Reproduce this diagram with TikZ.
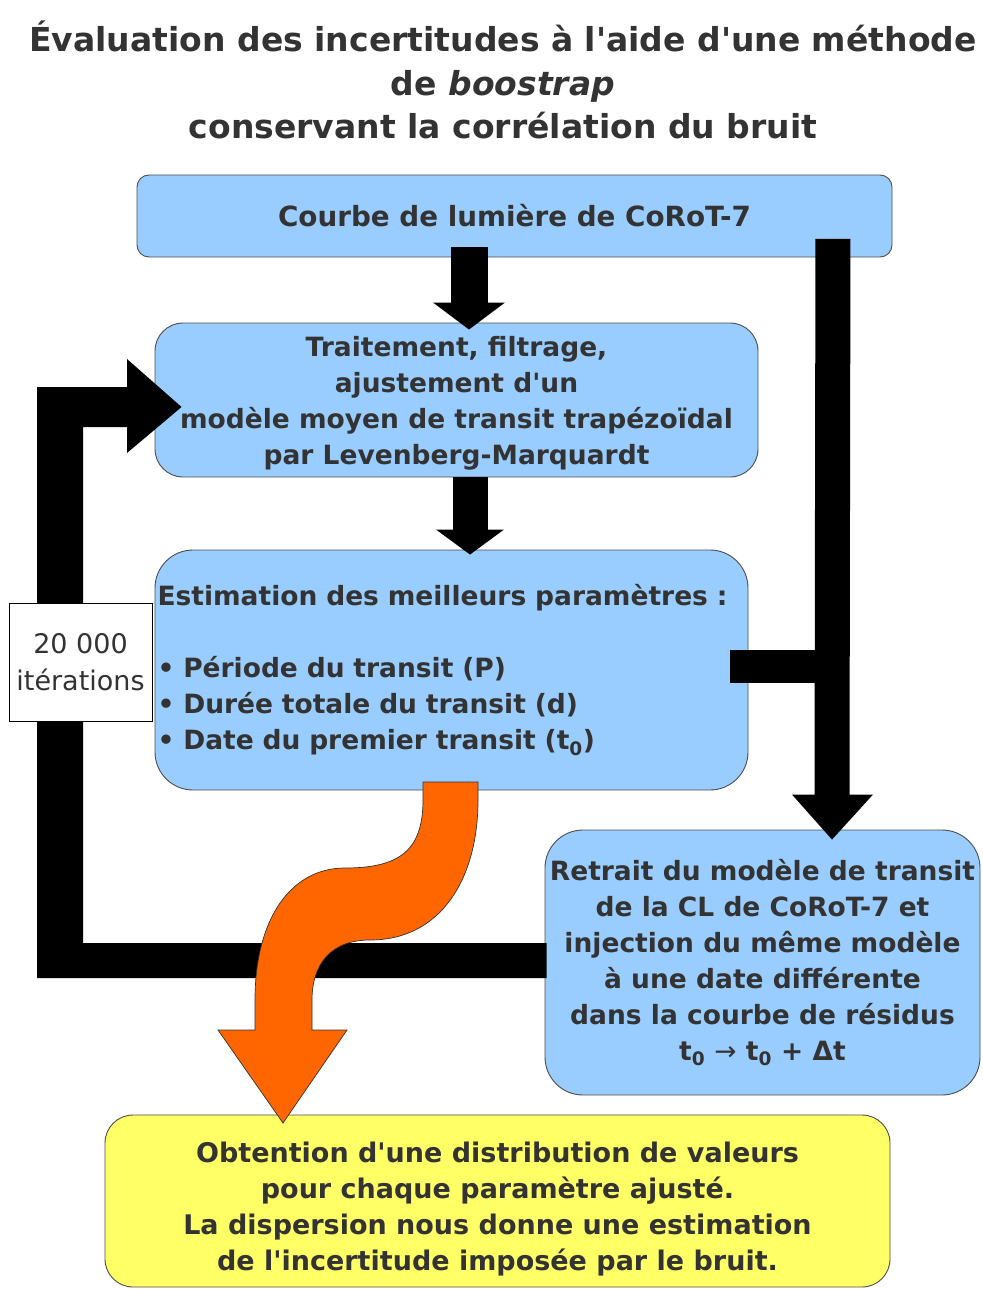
\documentclass[tikz,border=0pt]{standalone}
\usepackage{fontspec}
\newfontfamily\djfam{DejaVu Sans}
\usetikzlibrary{arrows.meta,calc}
\definecolor{boxblue}{HTML}{99CCFF}
\definecolor{boxyellow}{HTML}{FFFF66}
\definecolor{txtgray}{HTML}{333333}
\definecolor{orangeflow}{HTML}{FF6600}
\definecolor{edgegray}{HTML}{4D4D4D}
\tikzset{
  flowbox/.style={draw=edgegray, line width=0.9pt, fill=boxblue, text=txtgray,
    align=center, inner sep=0pt, font=\djfam\bfseries\fontsize{26.5}{36}\selectfont},
  titletext/.style={text=txtgray, align=center, inner sep=0pt,
    font=\djfam\bfseries\fontsize{33}{43.5}\selectfont},
  countbox/.style={draw=black, line width=0.8pt, fill=white, text=txtgray,
    align=center, inner sep=0pt, font=\djfam\fontsize{27}{37}\selectfont},
  fatline/.style={draw=black, line cap=butt, line join=miter},
  orangeshape/.style={fill=orangeflow, draw=black!80, line width=0.7pt}
}
\begin{document}
\begin{tikzpicture}[x=1pt,y=-1pt]
\useasboundingbox (0,0) rectangle (982,1289);

\node[titletext] (title) at (503,80)
  {Évaluation des incertitudes à l'aide d'une méthode\\de \textit{boostrap}\\conservant la corrélation du bruit};

\node[flowbox, font=\djfam\bfseries\fontsize{27.8}{36}\selectfont, minimum width=755pt, minimum height=82pt, rounded corners=12pt] (b1) at (514.5,216)
  {Courbe de lumière de CoRoT-7};

\node[flowbox, minimum width=603pt, minimum height=154pt, rounded corners=28pt] (b2) at (456.5,400)
  {\rule{0pt}{26pt}Traitement, filtrage,\\ajustement d'un\\modèle moyen de transit trapézoïdal\\par Levenberg-Marquardt};

\node[flowbox, minimum width=593pt, minimum height=240pt, rounded corners=38pt, align=left, text width=588pt] (b3) at (451.5,670)
  {Estimation des meilleurs paramètres :\\[36pt]• Période du transit (P)\\• Durée totale du transit (d)\\• Date du premier transit (t\textsubscript{0})};

\node[flowbox, minimum width=435pt, minimum height=265pt, rounded corners=38pt] (b4) at (762.5,962.5)
  {Retrait du modèle de transit\\de la CL de CoRoT-7 et\\injection du même modèle\\à une date différente\\dans la courbe de résidus\\t\textsubscript{0} {\mdseries→} t\textsubscript{0} + Δt};

\node[flowbox, fill=boxyellow, font=\djfam\bfseries\fontsize{27}{36}\selectfont, minimum width=785pt, minimum height=172pt, rounded corners=28pt] (b5) at (497.5,1201)
  {\rule{0pt}{36.5pt}Obtention d'une distribution de valeurs\\pour chaque paramètre ajusté.\\La dispersion nous donne une estimation\\de l'incertitude imposée par le bruit.};

% straight arrows
\draw[fatline, line width=37pt, -{Triangle[width=72pt,length=27pt,line width=0pt]}]
  ($(b1.south)+(-45.5,-10)$) -- ($(b2.north)+(12.5,7)$);
\draw[fatline, line width=35pt, -{Triangle[width=68pt,length=25pt,line width=0pt]}]
  ($(b2.south)+(13.5,0)$) -- ($(b3.north)+(18.5,5)$);

% right arrow from box 1 (and box 3) down to box 4
\coordinate (rtip) at ($(b4.north)+(69.5,10)$);
\fill[black] ($(b1.east)+(-77,23)$) -- ($(b1.east)+(-42,23)$) -- ($(rtip)+(17.5,-45)$)
  -- ($(rtip)+(41,-45)$) -- (rtip) -- ($(rtip)+(-40,-45)$) -- ($(rtip)+(-17.5,-45)$) -- cycle;
\draw[fatline, line width=33pt]
  ($(b3.east)+(-18,-3.5)$) -- ($(b3.east)+(84,-3.5)$);

% loop arrow back to box 2
\fill[black] ($(b4.west)+(2,-19.5)$) -- (83,943) -- (83,427) -- (127,427) -- (127,453)
  -- ($(b2.west)+(27,7)$) -- (127,359) -- (127,387) -- (37,387) -- (37,978)
  -- ($(b4.west)+(2,15.5)$) -- cycle;

\node[countbox, minimum width=143pt, minimum height=118pt] (lbl) at (80.5,662) {20 000\\itérations};

% orange curved arrow
\filldraw[orangeshape] (423,782) -- (423,800) .. controls (423,850) and (400,868) .. (345,868)
  .. controls (290,868) and (255,920) .. (255,1000) -- (255,1030) -- (218,1030) -- (283,1123)
  -- (347,1030) -- (312,1030) -- (312,1000) .. controls (312,965) and (330,940) .. (370,940)
  .. controls (440,940) and (478,880) .. (478,800) -- (478,782) -- cycle;
\end{tikzpicture}
\end{document}
